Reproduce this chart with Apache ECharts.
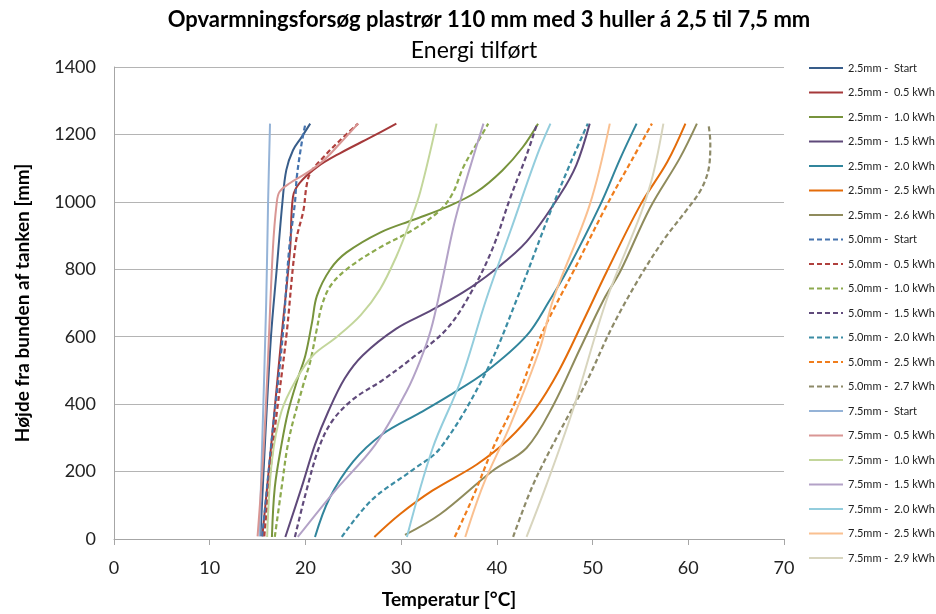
<!DOCTYPE html>
<html>
<head>
<meta charset="utf-8">
<script src="https://cdn.jsdelivr.net/npm/echarts@6/dist/echarts.min.js"></script>
<style>
html,body{margin:0;padding:0;background:#fff;}
#chart{width:936px;height:614px;}
</style>
</head>
<body>
<div id="chart"></div>
<script>
// ---- Data: [temperature °C, height mm] ----
const s25_start = [[15.3,8],[15.8,300],[16.4,600],[17.0,800],[17.6,1000],[18.0,1094],[18.7,1153],[19.6,1192],[20.5,1232]];
const s25_05 = [[15.5,8],[16.5,300],[17.5,600],[18.4,860],[18.7,1015],[19.4,1056],[21.2,1103],[23.6,1144],[26.8,1191],[29.5,1232]];
const s25_10 = [[16.5,6],[16.8,153],[17.5,280],[18.2,379],[19.2,476],[20.0,545],[20.7,644],[21.2,721],[22.6,800],[24.3,850],[27.8,909],[31.3,947],[34.8,985],[37.9,1030],[40.6,1094],[42.7,1162],[44.3,1232]];
const s25_15 = [[17.9,6],[19.6,153],[21.0,280],[22.4,379],[24.1,476],[26.0,545],[29.5,624],[33.0,676],[36.5,732],[39.6,794],[43.1,882],[46.6,1021],[48.3,1109],[49.7,1232]];
const s25_20 = [[21.0,6],[22.5,120],[25.0,230],[28.0,310],[32.0,375],[35.1,427],[38.9,497],[43.1,603],[45.6,712],[47.3,794],[50.8,991],[52.9,1129],[54.6,1232]];
const s25_25 = [[27.2,6],[29.9,74],[33.3,144],[37.9,221],[41.2,295],[44.0,385],[46.5,500],[49.0,645],[51.5,794],[55.0,991],[57.8,1118],[59.7,1232]];
const s25_26 = [[30.4,12],[34.1,74],[39.6,203],[43.1,270],[45.9,397],[48.7,565],[51.2,712],[52.9,794],[56.0,982],[59.1,1129],[60.9,1232]];
const s50_start = [[15.5,8],[16.5,300],[17.6,594],[18.3,860],[18.9,997],[19.1,1074],[19.6,1173],[20.0,1232]];
const s50_05 = [[15.7,8],[16.7,300],[18.0,600],[19.0,880],[19.8,976],[20.1,1044],[20.5,1085],[21.9,1133],[23.6,1182],[25.5,1232]];
const s50_10 = [[16.8,6],[17.5,150],[18.3,300],[19.8,460],[20.5,526],[21.2,624],[21.7,691],[22.6,750],[24.3,800],[27.8,865],[31.3,918],[34.1,976],[35.4,1026],[36.5,1103],[37.9,1173],[39.1,1232]];
const s50_15 = [[18.9,6],[20.0,132],[21.4,270],[22.8,350],[25.0,415],[28.0,470],[31.3,540],[34.8,624],[37.5,741],[39.6,865],[41.4,1012],[43.1,1138],[44.2,1232]];
const s50_20 = [[23.8,6],[26.9,115],[31.1,203],[34.1,270],[38.9,497],[42.1,712],[45.6,971],[47.6,1109],[49.5,1232]];
const s50_25 = [[35.6,6],[37.5,124],[39.6,270],[42.1,418],[44.8,615],[48.0,794],[51.5,991],[54.2,1129],[56.2,1232]];
const s50_27 = [[41.7,6],[43.8,162],[46.6,320],[49.4,468],[52.1,632],[55.0,780],[57.5,890],[59.8,975],[61.4,1040],[62.2,1110],[62.3,1176],[62.1,1232]];
const s75_start = [[15.2,8],[15.5,300],[15.9,700],[16.1,1000],[16.3,1232]];
const s75_05 = [[15.0,8],[15.6,250],[16.0,476],[16.6,860],[17.0,997],[17.3,1030],[18.4,1056],[20.1,1085],[21.9,1123],[23.6,1173],[25.5,1232]];
const s75_10 = [[16.0,6],[16.5,232],[17.5,379],[19.1,476],[20.8,545],[23.3,600],[25.8,665],[27.8,741],[29.5,838],[30.9,938],[32.0,1030],[33.7,1232]];
const s75_15 = [[19.2,6],[23.0,140],[27.3,280],[30.6,440],[32.0,530],[33.1,620],[34.1,741],[35.5,930],[36.5,1035],[37.5,1130],[38.6,1232]];
const s75_20 = [[30.6,6],[33.3,270],[36.2,468],[38.9,712],[41.4,912],[44.2,1138],[45.6,1232]];
const s75_25 = [[36.7,6],[38.6,162],[41.4,338],[44.5,565],[45.9,712],[49.7,991],[51.8,1232]];
const s75_29 = [[43.1,6],[45.2,162],[48.0,388],[51.5,712],[55.0,962],[56.3,1079],[57.4,1232]];

const seriesNames = [
  '2.5mm -  Start','2.5mm -  0.5 kWh','2.5mm -  1.0 kWh','2.5mm -  1.5 kWh','2.5mm -  2.0 kWh','2.5mm -  2.5 kWh','2.5mm -  2.6 kWh',
  '5.0mm -  Start','5.0mm -  0.5 kWh','5.0mm -  1.0 kWh','5.0mm -  1.5 kWh','5.0mm -  2.0 kWh','5.0mm -  2.5 kWh','5.0mm -  2.7 kWh',
  '7.5mm -  Start','7.5mm -  0.5 kWh','7.5mm -  1.0 kWh','7.5mm -  1.5 kWh','7.5mm -  2.0 kWh','7.5mm -  2.5 kWh','7.5mm -  2.9 kWh'
];
const seriesData = [s25_start,s25_05,s25_10,s25_15,s25_20,s25_25,s25_26,
  s50_start,s50_05,s50_10,s50_15,s50_20,s50_25,s50_27,
  s75_start,s75_05,s75_10,s75_15,s75_20,s75_25,s75_29];
const yTicks = [0,200,400,600,800,1000,1200,1400];
const xTicks = [0,10,20,30,40,50,60,70];

// ---- Styles ----
const colors = ['#385D8A','#A5393A','#77933C','#5F497A','#31859C','#E46C0A','#8F8B5C',
  '#4573AE','#B0403D','#8DAA4E','#604A7B','#3B8CA4','#F07D1C','#8D8A68',
  '#95B3D7','#D99694','#C3D69B','#B3A2C7','#93CDDD','#FAC090','#D8D5BE'];
const dashed = [0,0,0,0,0,0,0, 1,1,1,1,1,1,1, 0,0,0,0,0,0,0];

const FONT = 'Lato, "Open Sans", sans-serif';
const chart = echarts.init(document.getElementById('chart'), null, {renderer:'canvas'});
const series = seriesNames.map((n,i)=>({
  name:n, type:'line', data:seriesData[i], symbol:'circle', showSymbol:false, smooth:0.35,
  lineStyle:{color:colors[i], width: dashed[i]?2.2:2, type: dashed[i]?[5,3]:'solid'},
  itemStyle:{color:colors[i]}, z: 2
}));
chart.setOption({
  animation:false,
  backgroundColor:'#ffffff',
  title:[
    {text:'Opvarmningsforsøg plastrør 110 mm med 3 huller á 2,5 til 7,5 mm', left:484, top:4, textAlign:'center',
     textStyle:{fontFamily:FONT, fontSize:22, fontWeight:'bold', color:'#000'}},
    {text:'Energi tilført', left:469, top:34, textAlign:'center',
     textStyle:{fontFamily:FONT, fontSize:23, fontWeight:'normal', color:'#000'}}
  ],
  legend:{
    orient:'vertical', left:808, top:61, padding:0, itemWidth:34, itemHeight:14, itemGap:10.5,
    data:seriesNames, selectedMode:false,
    itemStyle:{opacity:0},
    textStyle:{fontFamily:FONT, fontSize:11, color:'#222', lineHeight:14}
  },
  grid:{left:114, right:152, top:67, bottom:72},
  xAxis:{
    type:'value', min:0, max:70, interval:10,
    name:'Temperatur [°C]', nameLocation:'middle', nameGap:51,
    nameTextStyle:{fontFamily:FONT, fontSize:19, fontWeight:'bold', color:'#000'},
    axisLine:{show:true, lineStyle:{color:'#A6A6A6', width:1}},
    axisTick:{show:true, length:6, lineStyle:{color:'#A6A6A6'}},
    axisLabel:{fontFamily:FONT, fontSize:18, color:'#222', margin:20,
      formatter:v=>xTicks.includes(v)?String(v):''},
    splitLine:{show:false}
  },
  yAxis:{
    type:'value', min:0, max:1400, interval:200,
    name:'Højde fra bunden af tanken [mm]', nameLocation:'middle', nameGap:82, nameRotate:90,
    nameTextStyle:{fontFamily:FONT, fontSize:19, fontWeight:'bold', color:'#000'},
    axisLine:{show:true, lineStyle:{color:'#A6A6A6', width:1}},
    axisTick:{show:false},
    axisLabel:{fontFamily:FONT, fontSize:18, color:'#222', margin:18,
      formatter:v=>yTicks.includes(v)?String(v):''},
    splitLine:{show:true, lineStyle:{color:'#B4B4B4', width:1}}
  },
  series:series
});
</script>
</body>
</html>
